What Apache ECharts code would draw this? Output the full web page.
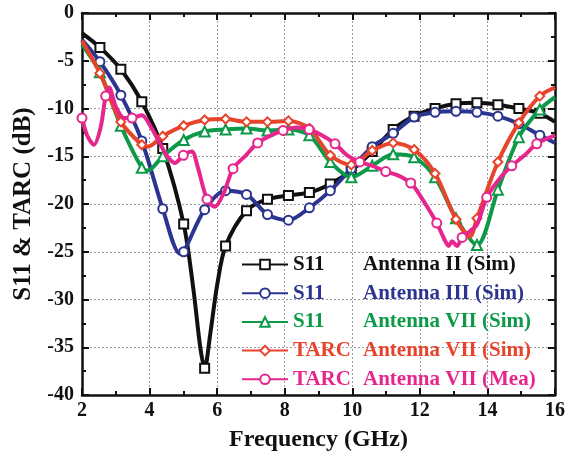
<!DOCTYPE html>
<html>
<head>
<meta charset="utf-8">
<script src="https://cdn.jsdelivr.net/npm/echarts@6/dist/echarts.min.js"></script>
<style>html,body{margin:0;padding:0;background:#fff;}#c{width:568px;height:457px;}</style>
</head>
<body>
<div id="c"></div>
<script>
// ---- data ----
const seriesNames = ['S11 Antenna II (Sim)', 'S11 Antenna III (Sim)', 'S11 Antenna VII (Sim)', 'TARC Antenna VII (Sim)', 'TARC Antenna VII (Mea)'];
const xTicks = [2, 4, 6, 8, 10, 12, 14, 16];
const yTicks = [0, -5, -10, -15, -20, -25, -30, -35, -40];

const freqII = [2.0, 2.53, 3.15, 3.77, 4.39, 5.01, 5.3, 5.5, 5.63, 5.8, 6.0, 6.25, 6.87, 7.49, 8.11, 8.73, 9.35, 9.97, 10.59, 11.21, 11.83, 12.45, 13.07, 13.69, 14.31, 14.93, 15.55, 16.0];
const s11II  = [-2.1, -3.6, -5.9, -9.3, -14.2, -22.1, -29.0, -35.0, -37.2, -33.5, -28.5, -24.4, -20.7, -19.5, -19.1, -18.8, -17.9, -16.5, -14.5, -12.2, -10.8, -10.0, -9.5, -9.4, -9.6, -10.0, -10.5, -11.4];
const markII = [0, 1, 1, 1, 1, 1, 0, 0, 1, 0, 0, 1, 1, 1, 1, 1, 1, 1, 1, 1, 1, 1, 1, 1, 1, 1, 1, 0];

const freqIII = [2.0, 2.53, 3.15, 3.77, 4.39, 4.9, 5.01, 5.63, 6.25, 6.87, 7.49, 8.11, 8.73, 9.35, 9.97, 10.59, 11.21, 11.83, 12.45, 13.07, 13.69, 14.31, 14.93, 15.55, 16.0];
const s11III  = [-2.8, -5.1, -8.6, -13.4, -20.5, -25.2, -25.0, -20.6, -18.6, -19.0, -21.1, -21.7, -20.4, -18.6, -16.3, -14.0, -12.6, -10.9, -10.4, -10.3, -10.4, -10.8, -11.6, -12.8, -13.6];
const markIII = [0, 1, 1, 1, 1, 0, 1, 1, 1, 1, 1, 1, 1, 1, 1, 1, 1, 1, 1, 1, 1, 1, 1, 1, 0];

const freqVII = [2.0, 2.53, 3.15, 3.77, 3.95, 4.39, 5.01, 5.63, 6.25, 6.87, 7.49, 8.11, 8.73, 9.35, 9.97, 10.59, 11.21, 11.83, 12.45, 13.07, 13.69, 14.31, 14.93, 15.55, 16.0];
const s11VII  = [-3.3, -6.2, -11.8, -16.2, -16.5, -15.0, -13.3, -12.4, -12.2, -12.1, -12.3, -12.2, -12.8, -15.6, -17.2, -16.0, -14.8, -15.1, -17.2, -21.5, -24.3, -18.5, -13.0, -10.1, -8.8];
const markVII = [0, 1, 1, 1, 0, 1, 1, 1, 1, 1, 1, 1, 1, 1, 1, 1, 1, 1, 1, 1, 1, 1, 1, 1, 0];

const freqTarcSim = [2.0, 2.53, 3.15, 3.77, 3.95, 4.39, 5.01, 5.63, 6.25, 6.87, 7.49, 8.11, 8.73, 9.35, 9.97, 10.59, 11.21, 11.83, 12.45, 13.07, 13.48, 13.69, 14.31, 14.93, 15.55, 16.0];
const tarcSim     = [-2.9, -6.3, -11.4, -13.8, -14.0, -12.9, -11.8, -11.2, -11.1, -11.4, -11.4, -11.3, -12.1, -14.9, -15.9, -14.4, -13.6, -14.3, -16.8, -21.6, -23.4, -21.5, -15.6, -11.5, -8.7, -7.8];
const markTarcSim = [0, 1, 1, 1, 0, 1, 1, 1, 1, 1, 1, 1, 1, 1, 1, 1, 1, 1, 1, 1, 0, 1, 1, 1, 1, 0];

const freqTarcMea = [2.0, 2.15, 2.35, 2.55, 2.7, 2.8, 3.0, 3.25, 3.48, 3.77, 4.05, 4.3, 4.5, 4.75, 5.0, 5.25, 5.43, 5.7, 5.93, 6.2, 6.47, 6.85, 7.2, 7.6, 7.95, 8.35, 8.72, 9.1, 9.49, 9.85, 10.22, 10.6, 10.99, 11.35, 11.73, 11.95, 12.2, 12.5, 12.74, 12.85, 12.95, 13.1, 13.25, 13.5, 13.7, 13.98, 14.37, 14.72, 15.1, 15.46, 16.0];
const tarcMea     = [-11.0, -12.8, -13.8, -12.0, -8.7, -7.8, -9.8, -11.0, -11.0, -10.7, -12.0, -13.6, -14.9, -15.7, -14.9, -14.5, -16.2, -19.5, -20.3, -18.8, -16.3, -14.9, -13.6, -12.8, -12.3, -12.0, -12.2, -12.8, -13.7, -14.9, -15.6, -16.0, -16.6, -17.0, -17.8, -18.8, -20.2, -22.0, -23.8, -24.4, -23.9, -24.4, -23.5, -22.8, -22.1, -19.3, -17.3, -16.0, -14.9, -13.7, -12.8];
const markTarcMea = [1, 0, 0, 0, 1, 0, 0, 0, 1, 0, 0, 0, 0, 0, 1, 0, 0, 1, 0, 0, 1, 0, 1, 0, 1, 0, 1, 0, 1, 0, 1, 0, 1, 0, 1, 0, 0, 1, 0, 0, 0, 0, 1, 0, 0, 1, 0, 1, 0, 1, 0];

// ---- styling ----
const colors = ['#111111', '#2b3590', '#0c9a48', '#e8432b', '#e6268c'];
const symbols = ['emptyRect', 'emptyCircle', 'emptyTriangle', 'emptyDiamond', 'emptyCircle'];
const sets = [
  [freqII, s11II, markII],
  [freqIII, s11III, markIII],
  [freqVII, s11VII, markVII],
  [freqTarcSim, tarcSim, markTarcSim],
  [freqTarcMea, tarcMea, markTarcMea]
];
const FONT = '"Liberation Serif", "Times New Roman", serif';

const series = sets.map((s, k) => ({
  name: seriesNames[k],
  type: 'line',
  xAxisIndex: 0, yAxisIndex: 0,
  smooth: 0.3,
  symbol: symbols[k],
  symbolSize: k === 2 ? 10 : 9,
  lineStyle: { color: colors[k], width: 4 },
  itemStyle: { color: colors[k], borderWidth: 1.5 },
  z: 2 + k,
  data: s[0].map((x, i) => ({ value: [x, s[1][i]], symbol: s[2][i] ? symbols[k] : 'none' }))
}));

const tickStyle = { inside: true, length: 7, lineStyle: { color: '#111', width: 2 } };
const minorStyle = { show: true, splitNumber: 2, length: 4, lineStyle: { color: '#111', width: 2 } };
const axisLine = { show: true, onZero: false, lineStyle: { color: '#111', width: 2.5 } };
const splitLine = { show: true, lineStyle: { color: '#9a9aa8', type: [2, 2], width: 1 } };
const labelStyle = { color: '#111', fontFamily: FONT, fontWeight: 'bold', fontSize: 20 };

const chart = echarts.init(document.getElementById('c'), null, { renderer: 'canvas' });
chart.setOption({
  animation: false,
  backgroundColor: '#fff',
  grid: { left: 82, right: 13, top: 13, bottom: 57, containLabel: false },
  xAxis: [
    { type: 'value', min: xTicks[0], max: xTicks[xTicks.length - 1], interval: 2,
      name: 'Frequency (GHz)', nameLocation: 'middle', nameGap: 33,
      nameTextStyle: { color: '#111', fontFamily: FONT, fontWeight: 'bold', fontSize: 24 },
      axisLine, axisTick: tickStyle, minorTick: minorStyle, splitLine,
      axisLabel: Object.assign({ margin: 6 }, labelStyle) },
    { type: 'value', position: 'top', min: xTicks[0], max: xTicks[xTicks.length - 1], interval: 2,
      axisLine, axisTick: tickStyle, minorTick: minorStyle, splitLine: { show: false },
      axisLabel: { show: false } }
  ],
  yAxis: [
    { type: 'value', min: yTicks[yTicks.length - 1], max: yTicks[0], interval: 5,
      name: 'S11 & TARC (dB)', nameLocation: 'middle', nameGap: 46, nameRotate: 90,
      nameTextStyle: { color: '#111', fontFamily: FONT, fontWeight: 'bold', fontSize: 25 },
      axisLine, axisTick: tickStyle, minorTick: minorStyle, splitLine,
      axisLabel: Object.assign({ margin: 8 }, labelStyle) },
    { type: 'value', position: 'right', min: yTicks[yTicks.length - 1], max: yTicks[0], interval: 5,
      axisLine, axisTick: tickStyle, minorTick: minorStyle, splitLine: { show: false },
      axisLabel: { show: false } }
  ],
  legend: {
    orient: 'vertical', left: 236, top: 249,
    itemWidth: 46, itemHeight: 12, itemGap: 7.7,
    backgroundColor: 'transparent',
    data: seriesNames.map((n, k) => ({
      name: n,
      textStyle: {
        color: colors[k], fontFamily: FONT, fontWeight: 'bold', fontSize: 21, lineHeight: 20,
        rich: {
          a: { color: colors[k], fontFamily: FONT, fontWeight: 'bold', fontSize: 21, width: 70 },
          b: { color: colors[k], fontFamily: FONT, fontWeight: 'bold', fontSize: 21 }
        }
      }
    })),
    formatter: function (name) {
      const i = name.indexOf(' Antenna');
      return '{a|' + name.slice(0, i) + '}{b|' + name.slice(i + 1) + '}';
    }
  },
  series: series
});
</script>
</body>
</html>
